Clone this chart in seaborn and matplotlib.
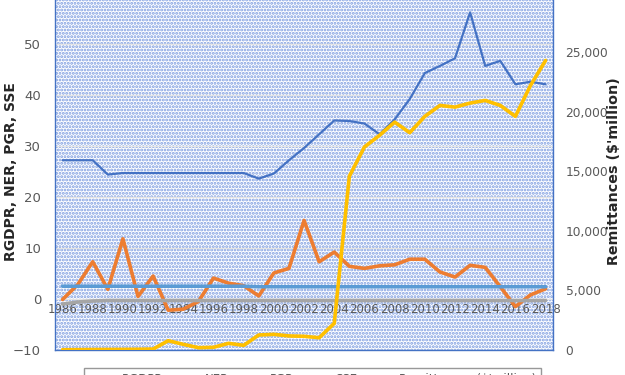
import numpy as np
import pandas as pd
import matplotlib
matplotlib.use("Agg")
import matplotlib.pyplot as plt
import matplotlib.ticker as mticker
from matplotlib.patches import Rectangle
import seaborn as sns

years = list(range(1986, 2019))

rgdpr = [27.2, 27.2, 27.2, 24.4, 24.7, 24.7, 24.7, 24.7, 24.7, 24.7, 24.7,
         24.7, 24.7, 23.6, 24.6, 27.2, 29.6, 32.3, 35.0, 34.9, 34.4, 32.3,
         35.2, 39.2, 44.3, 45.7, 47.2, 56.2, 45.7, 46.7, 42.1, 42.6, 42.1]
ner = [-0.1, 2.8, 7.3, 1.9, 11.8, 0.5, 4.5, -2.2, -2.0, -0.5, 4.1,
       3.1, 2.6, 0.6, 5.1, 6.0, 15.4, 7.3, 9.2, 6.4, 6.0, 6.5,
       6.7, 7.8, 7.8, 5.3, 4.3, 6.6, 6.2, 2.4, -1.5, 0.8, 2.0]
pgr = [-1.0, -0.6, -0.4, -0.3, -0.3, -0.3, -0.3, -0.3, -0.3, -0.3, -0.3,
       -0.3, -0.3, -0.3, -0.3, -0.3, -0.3, -0.3, -0.3, -0.3, -0.3, -0.3,
       -0.3, -0.3, -0.3, -0.3, -0.3, -0.3, -0.3, -0.3, -0.3, -0.3, -0.3]
sse = [2.5, 2.5, 2.5, 2.5, 2.5, 2.5, 2.5, 2.5, 2.5, 2.5, 2.5,
       2.5, 2.5, 2.4, 2.4, 2.4, 2.4, 2.4, 2.4, 2.4, 2.4, 2.4,
       2.4, 2.4, 2.4, 2.4, 2.4, 2.4, 2.4, 2.4, 2.4, 2.4, 2.4]
remit = [20, 30, 40, 45, 50, 60, 80, 780, 475, 195, 225,
         560, 390, 1260, 1315, 1180, 1150, 1030, 2240, 14600, 17060, 18040,
         19150, 18260, 19630, 20550, 20410, 20750, 20970, 20550, 19630, 22230, 24330]

df = pd.DataFrame({"year": years, "RGDPR": rgdpr, "NER": ner, "PGR": pgr,
                   "SSE": sse, "Remittances": remit})

sns.set_theme(style="white")
plt.rcParams['font.family'] = ['DejaVu Sans']

fig = plt.figure(figsize=(6.25, 3.75), dpi=100)
ax = fig.add_axes([0.088, 0.0667, 0.797, 0.952])
ax2 = ax.twinx()

# patterned plot area (Excel dotted fill)
plt.rcParams['hatch.linewidth'] = 1.4
bg = Rectangle((0, 0), 1, 1, transform=ax.transAxes, facecolor='white',
               edgecolor='#7b9be0', hatch='.....', lw=0, zorder=0)
ax.add_patch(bg)

ax.set_axisbelow(True)
ax.grid(axis='y', color='#e4e4e4', lw=0.9)

sns.lineplot(data=df, x="year", y="RGDPR", ax=ax, color='#4472C4', lw=1.6, label="RGDPR")
sns.lineplot(data=df, x="year", y="NER", ax=ax, color='#ED7D31', lw=2.6, label="NER")
sns.lineplot(data=df, x="year", y="PGR", ax=ax, color='#A5A5A5', lw=2.6, label="PGR")
sns.lineplot(data=df, x="year", y="SSE", ax=ax, color='#5B9BD5', lw=2.6, label="SSE")
sns.lineplot(data=df, x="year", y="Remittances", ax=ax2, color='#FFC000', lw=2.6,
             label="Remittances ($'million)")

ax.set_xlim(1985.5, 2018.5)
ax.set_ylim(-10, 60)
ax.set_yticks(range(-10, 51, 10))
ax2.set_ylim(0, 30000)
ax2.set_yticks(range(0, 25001, 5000))
ax2.yaxis.set_major_formatter(mticker.StrMethodFormatter('{x:,.0f}'))

# category labels sit on the zero line
ax.set_xticks([])
ax.set_xlabel("")
sec = ax.secondary_xaxis(10 / 70)
sec.set_xticks(years[::2])
sec.set_xticklabels([str(y) for y in years[::2]])
sec.tick_params(length=0, labelsize=8.5, labelcolor='#595959', pad=3)
sec.spines['bottom'].set_visible(False)

ax.tick_params(axis='y', length=0, labelsize=9.5, labelcolor='#595959', pad=10)
ax2.tick_params(axis='y', length=0, labelsize=8.8, labelcolor='#595959', pad=9)

ax.set_ylabel("RGDPR, NER, PGR, SSE", fontsize=10, fontweight='bold')
ax.yaxis.set_label_coords(-0.075, 0.5)
ax2.set_ylabel("Remittances ($'million)", fontsize=10.3, fontweight='bold')
ax2.yaxis.set_label_coords(1.108, 0.5)

for sp in ax.spines.values():
    sp.set_color('#4472C4')
    sp.set_linewidth(1.0)
for sp in ax2.spines.values():
    sp.set_visible(False)

h1, l1 = ax.get_legend_handles_labels()
h2, l2 = ax2.get_legend_handles_labels()
ax.get_legend().remove()
ax2.get_legend().remove()
leg = fig.legend(h1 + h2, l1 + l2, loc='upper center', bbox_to_anchor=(0.5, 0.019),
                 ncol=5, fontsize=8.5, frameon=True, fancybox=False,
                 edgecolor='#7f7f7f', handlelength=2.0, columnspacing=0.7,
                 borderaxespad=0.0)
leg.get_frame().set_linewidth(1.0)
for t in leg.get_texts():
    t.set_color('#595959')

fig.savefig("out.png", dpi=100)
